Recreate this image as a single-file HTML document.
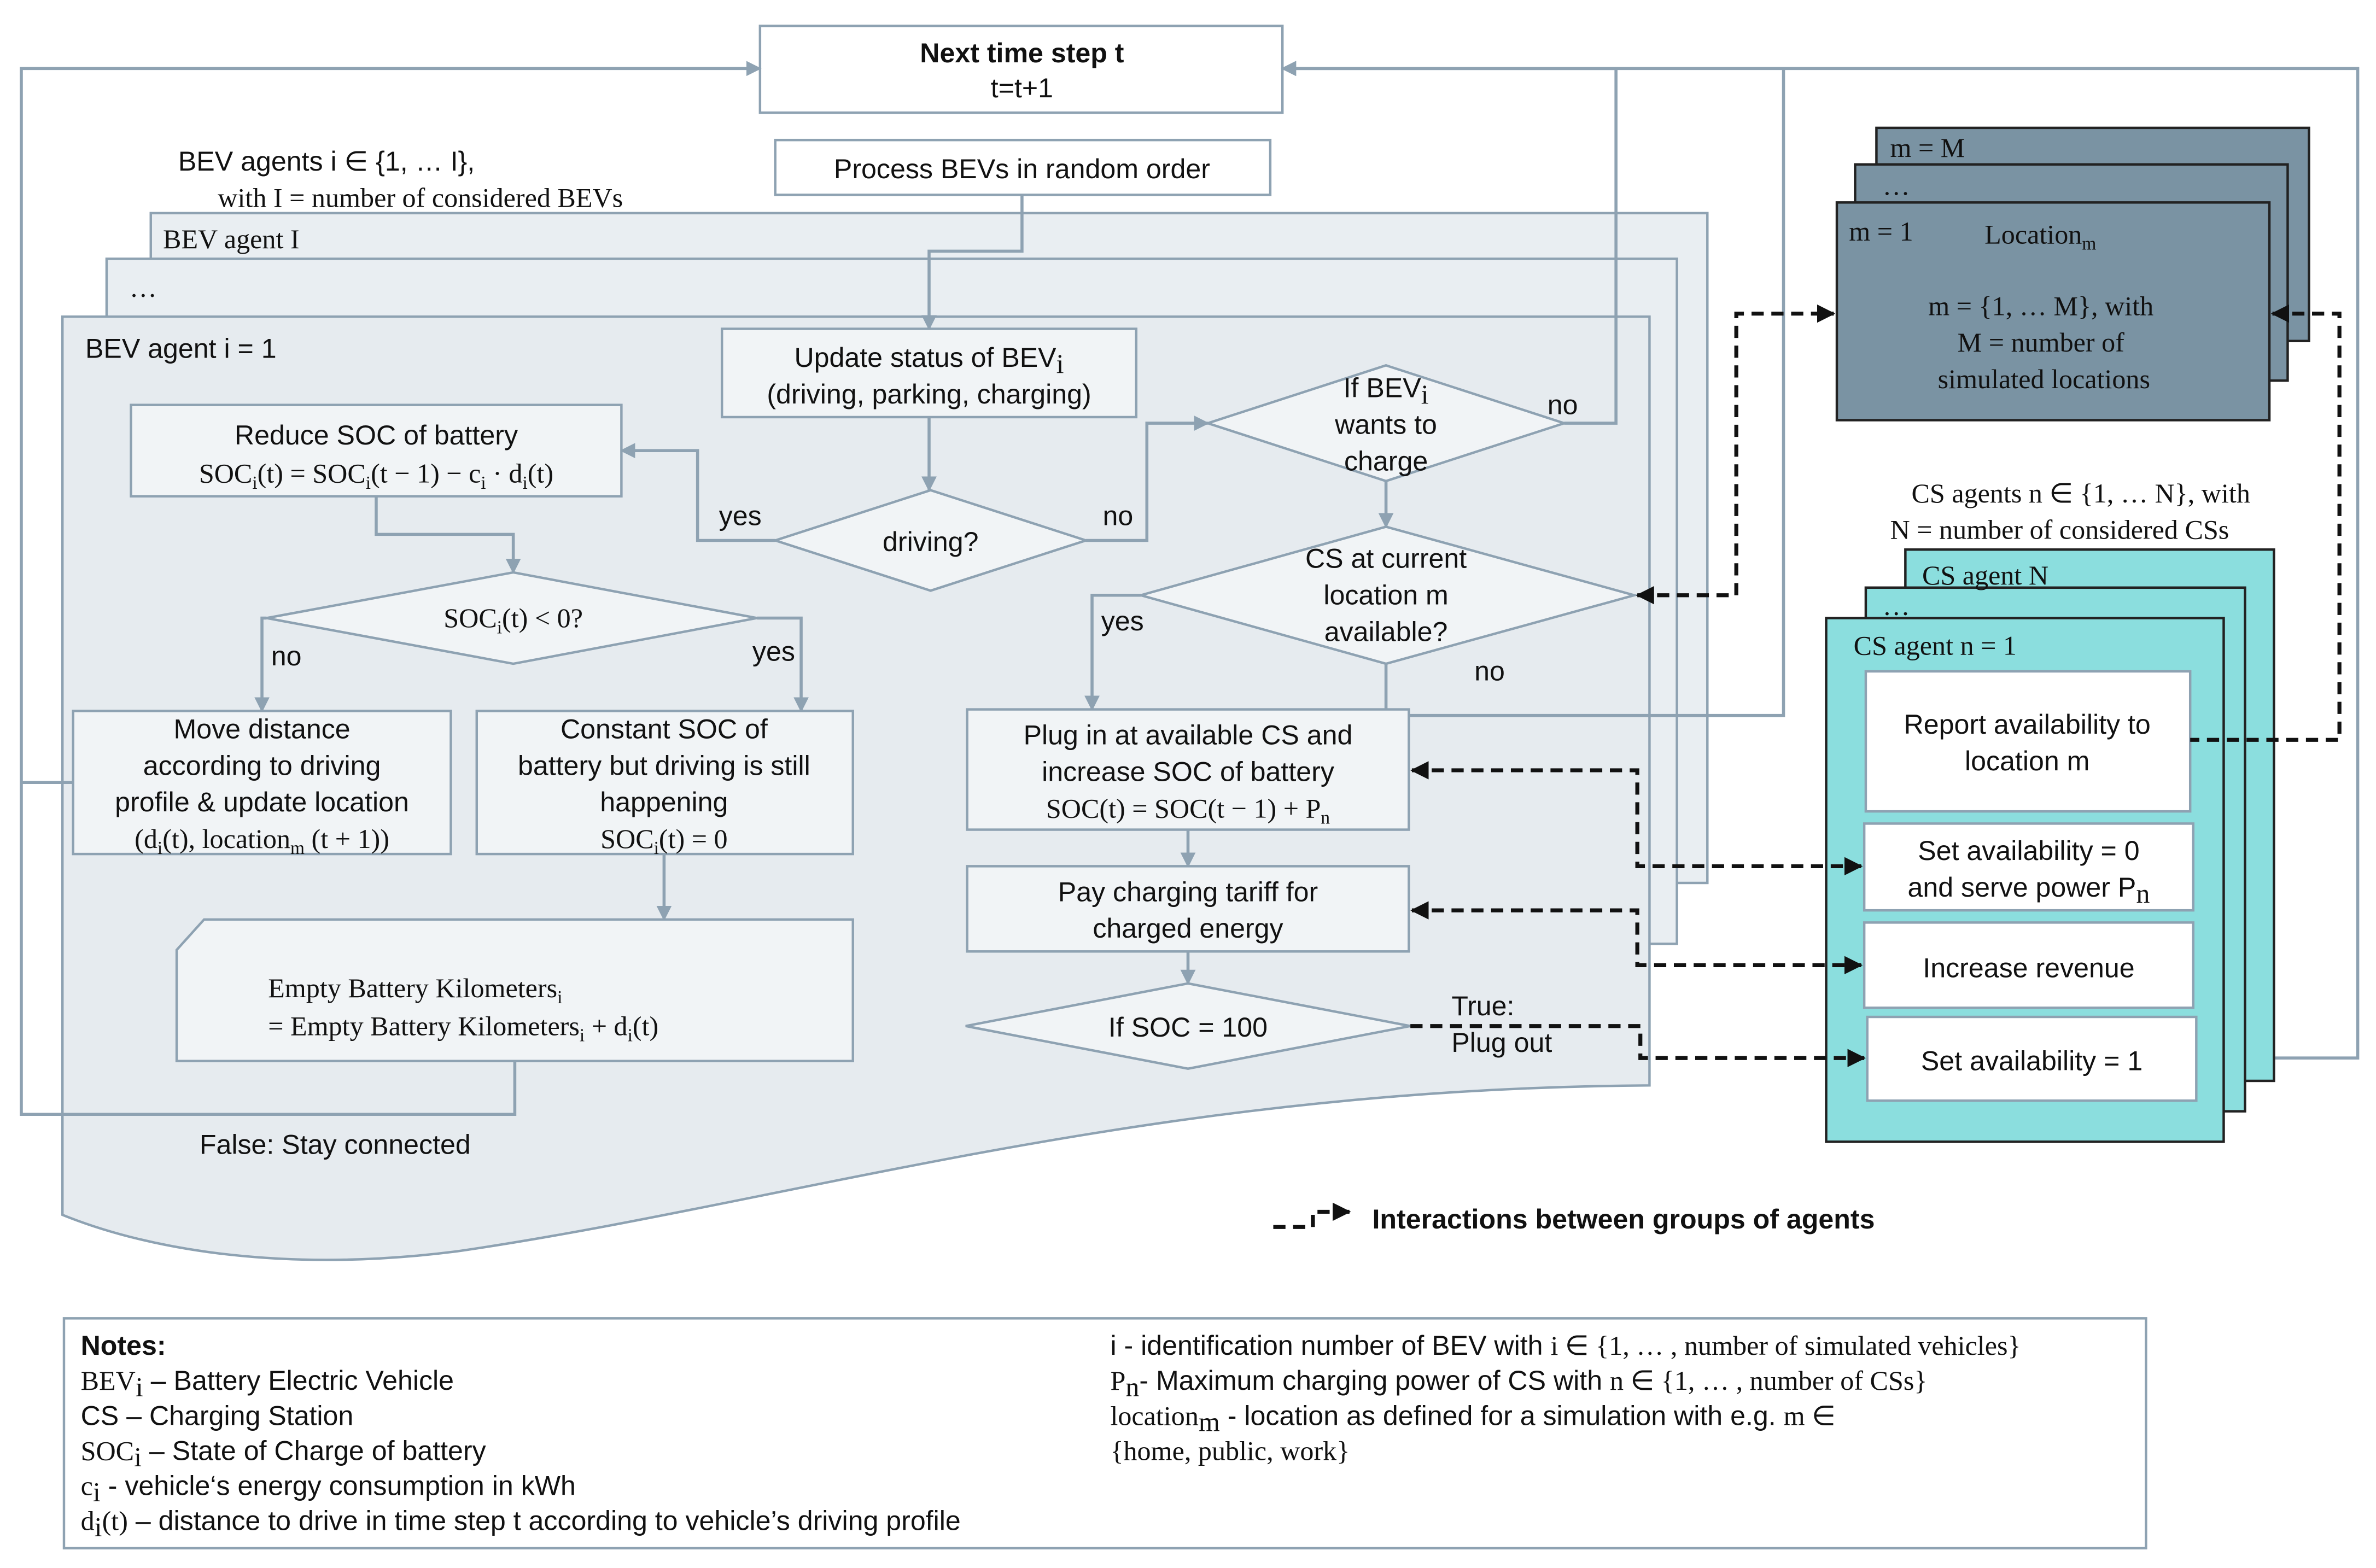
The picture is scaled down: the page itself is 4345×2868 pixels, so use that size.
<!DOCTYPE html>
<html><head><meta charset="utf-8"><style>
html,body{margin:0;padding:0;background:#fff}
svg{display:block}
.s{font-family:"Liberation Sans",sans-serif;font-size:18px;fill:#111}
.r{font-family:"Liberation Serif",serif;font-size:18px;fill:#111}
.b{font-weight:bold}
.box{fill:#f1f4f6;stroke:#8ea2b2;stroke-width:1.6}
.ln{fill:none;stroke:#8ea2b2;stroke-width:2}
.dl{fill:none;stroke:#111;stroke-width:2.6;stroke-dasharray:8,5}
</style></head><body>
<svg width="4345" height="2868" viewBox="0 0 1560 1030" preserveAspectRatio="none" xmlns="http://www.w3.org/2000/svg">
<defs>
<marker id="ag" markerWidth="10" markerHeight="10" refX="9" refY="5" orient="auto" markerUnits="userSpaceOnUse"><path d="M0,0 L10,5 L0,10 Z" fill="#8ea2b2"/></marker>
<marker id="ab" markerWidth="12" markerHeight="12" refX="11" refY="6" orient="auto" markerUnits="userSpaceOnUse"><path d="M0,0 L12,6 L0,12 Z" fill="#111"/></marker>
<marker id="abs" markerWidth="12" markerHeight="12" refX="1" refY="6" orient="auto" markerUnits="userSpaceOnUse"><path d="M12,0 L0,6 L12,12 Z" fill="#111"/></marker>
</defs>
<rect width="1560" height="1030" fill="#fff"/>

<!-- BEV panels -->
<rect x="99" y="140" width="1022" height="440" fill="#e9eef2" stroke="#8ea2b2" stroke-width="1.6"/>
<rect x="70" y="170" width="1031" height="450" fill="#e9eef2" stroke="#8ea2b2" stroke-width="1.6"/>
<path d="M41,208 H1083 V713 C750,715 520,790 300,822 C190,836 100,822 41,798 Z" fill="#e6ebef" stroke="#8ea2b2" stroke-width="1.6"/>
<text class="r" x="107" y="163">BEV agent I</text>
<text class="r" x="85" y="195">…</text>
<text class="s" x="56" y="235">BEV agent i = 1</text>
<text class="s" x="117" y="112">BEV agents i ∈ {1, … I},</text>
<text class="r" x="143" y="136">with I = number of considered BEVs</text>

<!-- top boxes -->
<rect x="499" y="17" width="343" height="57" fill="#fff" stroke="#8ea2b2" stroke-width="1.6"/>
<text class="s b" x="671" y="41" text-anchor="middle">Next time step t</text>
<text class="s" x="671" y="64" text-anchor="middle">t=t+1</text>
<rect x="509" y="92" width="325" height="36" fill="#fff" stroke="#8ea2b2" stroke-width="1.6"/>
<text class="s" x="671" y="117" text-anchor="middle">Process BEVs in random order</text>

<!-- connectors gray -->
<path class="ln" d="M671,128 V165 H610 V216" marker-end="url(#ag)"/>
<path class="ln" d="M610,274 V322" marker-end="url(#ag)"/>
<path class="ln" d="M509,355 H458 V296 H408" marker-end="url(#ag)"/>
<path class="ln" d="M713,355 H753 V278 H793" marker-end="url(#ag)"/>
<path class="ln" d="M1027,278 H1061 V45 H842" marker-end="url(#ag)"/>
<path class="ln" d="M910,316 V346" marker-end="url(#ag)"/>
<path class="ln" d="M749,391 H717 V466" marker-end="url(#ag)"/>
<path class="ln" d="M910,436 V470 H1171 V45"/>
<path class="ln" d="M1442,695 H1548 V45 H842" marker-end="url(#ag)"/>
<path class="ln" d="M247,326 V351 H337 V376" marker-end="url(#ag)"/>
<path class="ln" d="M175,406 H172 V467" marker-end="url(#ag)"/>
<path class="ln" d="M497,406 H526 V467" marker-end="url(#ag)"/>
<path class="ln" d="M436,561 V604" marker-end="url(#ag)"/>
<path class="ln" d="M338,697 V732 H14 V45 H499" marker-end="url(#ag)"/>
<path class="ln" d="M48,514 H14"/>
<path class="ln" d="M780,545 V569" marker-end="url(#ag)"/>
<path class="ln" d="M780,625 V646" marker-end="url(#ag)"/>

<!-- BEV boxes -->
<rect class="box" x="474" y="216" width="272" height="58"/>
<text class="s" x="610" y="241" text-anchor="middle">Update status of BEV<tspan class="r" font-size="13" dy="4">i</tspan></text>
<text class="s" x="610" y="265" text-anchor="middle">(driving, parking, charging)</text>

<rect class="box" x="86" y="266" width="322" height="60"/>
<text class="s" x="247" y="292" text-anchor="middle">Reduce SOC of battery</text>
<text class="r" x="247" y="317" text-anchor="middle">SOC<tspan font-size="12" dy="4">i</tspan><tspan dy="-4">(t) = SOC</tspan><tspan font-size="12" dy="4">i</tspan><tspan dy="-4">(t − 1) − c</tspan><tspan font-size="12" dy="4">i</tspan><tspan dy="-4"> · d</tspan><tspan font-size="12" dy="4">i</tspan><tspan dy="-4">(t)</tspan></text>

<polygon class="box" points="509,355 611,322 713,355 611,388"/>
<text class="s" x="611" y="362" text-anchor="middle">driving?</text>
<text class="s" x="472" y="345">yes</text>
<text class="s" x="724" y="345">no</text>

<polygon class="box" points="793,278 910,240 1027,278 910,316"/>
<text class="s" x="910" y="261" text-anchor="middle">If BEV<tspan class="r" font-size="13" dy="4">i</tspan></text>
<text class="s" x="910" y="285" text-anchor="middle">wants to</text>
<text class="s" x="910" y="309" text-anchor="middle">charge</text>
<text class="s" x="1016" y="272">no</text>

<polygon class="box" points="749,391 910,346 1073,391 910,436"/>
<text class="s" x="910" y="373" text-anchor="middle">CS at current</text>
<text class="s" x="910" y="397" text-anchor="middle">location m</text>
<text class="s" x="910" y="421" text-anchor="middle">available?</text>
<text class="s" x="723" y="414">yes</text>
<text class="s" x="968" y="447">no</text>

<polygon class="box" points="175,406 337,376 497,406 337,436"/>
<text class="r" x="337" y="412" text-anchor="middle">SOC<tspan font-size="12" dy="4">i</tspan><tspan dy="-4">(t) &lt;  0?</tspan></text>
<text class="s" x="178" y="437">no</text>
<text class="s" x="494" y="434">yes</text>

<rect class="box" x="48" y="467" width="248" height="94"/>
<text class="s" x="172" y="485" text-anchor="middle">Move distance</text>
<text class="s" x="172" y="509" text-anchor="middle">according to driving</text>
<text class="s" x="172" y="533" text-anchor="middle">profile &amp; update location</text>
<text class="r" x="172" y="557" text-anchor="middle">(d<tspan font-size="12" dy="4">i</tspan><tspan dy="-4">(t), location</tspan><tspan font-size="12" dy="4">m</tspan><tspan dy="-4"> (t + 1))</tspan></text>

<rect class="box" x="313" y="467" width="247" height="94"/>
<text class="s" x="436" y="485" text-anchor="middle">Constant SOC of</text>
<text class="s" x="436" y="509" text-anchor="middle">battery but driving is still</text>
<text class="s" x="436" y="533" text-anchor="middle">happening</text>
<text class="r" x="436" y="557" text-anchor="middle">SOC<tspan font-size="12" dy="4">i</tspan><tspan dy="-4">(t) = 0</tspan></text>

<path class="box" d="M134,604 H560 V697 H116 V624 Z"/>
<text class="r" x="176" y="655">Empty Battery Kilometers<tspan font-size="12" dy="4">i</tspan></text>
<text class="r" x="176" y="680">=  Empty Battery Kilometers<tspan font-size="12" dy="4">i</tspan><tspan dy="-4"> + d</tspan><tspan font-size="12" dy="4">i</tspan><tspan dy="-4">(t)</tspan></text>
<text class="s" x="131" y="758">False: Stay connected</text>

<rect class="box" x="635" y="466" width="290" height="79"/>
<text class="s" x="780" y="489" text-anchor="middle">Plug in at available CS and</text>
<text class="s" x="780" y="513" text-anchor="middle">increase SOC of battery</text>
<text class="r" x="780" y="537" text-anchor="middle">SOC(t) = SOC(t − 1) + P<tspan font-size="12" dy="4">n</tspan></text>

<rect class="box" x="635" y="569" width="290" height="56"/>
<text class="s" x="780" y="592" text-anchor="middle">Pay charging tariff for</text>
<text class="s" x="780" y="616" text-anchor="middle">charged energy</text>

<polygon class="box" points="634,674 780,646 926,674 780,702"/>
<text class="s" x="780" y="681" text-anchor="middle">If SOC = 100</text>
<text class="s" x="953" y="667">True:</text>
<text class="s" x="953" y="691">Plug out</text>

<!-- Locations -->
<rect x="1232" y="84" width="284" height="140" fill="#7a93a3" stroke="#222" stroke-width="1.6"/>
<rect x="1218" y="108" width="284" height="142" fill="#7a93a3" stroke="#222" stroke-width="1.6"/>
<rect x="1206" y="133" width="284" height="143" fill="#7a93a3" stroke="#222" stroke-width="1.6"/>
<text class="r" x="1241" y="103">m = M</text>
<text class="r" x="1236" y="128">…</text>
<text class="r" x="1214" y="158">m = 1</text>
<text class="r" x="1303" y="160">Location<tspan font-size="12" dy="4">m</tspan></text>
<text class="r" x="1340" y="207" text-anchor="middle">m = {1, … M}, with</text>
<text class="r" x="1340" y="231" text-anchor="middle">M = number of</text>
<text class="r" x="1342" y="255" text-anchor="middle">simulated locations</text>

<!-- CS agents -->
<text class="r" x="1255" y="330">CS agents n ∈ {1, … N}, with</text>
<text class="r" x="1241" y="354">N = number of considered CSs</text>
<rect x="1251" y="361" width="242" height="349" fill="#8bdede" stroke="#222" stroke-width="1.6"/>
<rect x="1225" y="386" width="249" height="344" fill="#8bdede" stroke="#222" stroke-width="1.6"/>
<rect x="1199" y="406" width="261" height="344" fill="#8bdede" stroke="#222" stroke-width="1.6"/>
<text class="r" x="1262" y="384">CS agent N</text>
<text class="r" x="1236" y="404">…</text>
<text class="r" x="1217" y="430">CS agent n = 1</text>
<rect x="1225" y="441" width="213" height="92" fill="#fff" stroke="#8ea2b2" stroke-width="1.6"/>
<text class="s" x="1331" y="482" text-anchor="middle">Report availability to</text>
<text class="s" x="1331" y="506" text-anchor="middle">location m</text>
<rect x="1224" y="541" width="216" height="57" fill="#fff" stroke="#8ea2b2" stroke-width="1.6"/>
<text class="s" x="1332" y="565" text-anchor="middle">Set availability = 0</text>
<text class="s" x="1332" y="589" text-anchor="middle">and serve power P<tspan class="r" font-size="12" dy="4">n</tspan></text>
<rect x="1224" y="606" width="216" height="56" fill="#fff" stroke="#8ea2b2" stroke-width="1.6"/>
<text class="s" x="1332" y="642" text-anchor="middle">Increase revenue</text>
<rect x="1226" y="668" width="216" height="55" fill="#fff" stroke="#8ea2b2" stroke-width="1.6"/>
<text class="s" x="1334" y="703" text-anchor="middle">Set availability = 1</text>

<!-- dashed interactions -->
<path class="dl" d="M1075,391 H1140 V206 H1204" marker-start="url(#abs)" marker-end="url(#ab)"/>
<path class="dl" d="M1492,206 H1536 V486 H1438" marker-start="url(#abs)"/>
<path class="dl" d="M927,506 H1075 V569 H1222" marker-start="url(#abs)" marker-end="url(#ab)"/>
<path class="dl" d="M927,598 H1075 V634 H1222" marker-start="url(#abs)" marker-end="url(#ab)"/>
<path class="dl" d="M926,674 H1077 V695 H1224" marker-end="url(#ab)"/>

<!-- legend -->
<path class="dl" d="M836,806 H862 V796 H886" marker-end="url(#ab)"/>
<text class="s b" x="901" y="807" font-size="16">Interactions between groups of agents</text>

<!-- Notes -->
<rect x="42" y="866" width="1367" height="151" fill="#fff" stroke="#8ea2b2" stroke-width="1.6"/>
<g font-size="17">
<text class="s b" x="53" y="890" font-size="17">Notes:</text>
<text class="s" x="53" y="913" font-size="17"><tspan class="r">BEV</tspan><tspan class="r" font-size="12" dy="4">i</tspan><tspan dy="-4"> – Battery Electric Vehicle</tspan></text>
<text class="s" x="53" y="936" font-size="17">CS – Charging Station</text>
<text class="s" x="53" y="959" font-size="17"><tspan class="r">SOC</tspan><tspan class="r" font-size="12" dy="4">i</tspan><tspan dy="-4"> – State of Charge of battery</tspan></text>
<text class="s" x="53" y="982" font-size="17"><tspan class="r">c</tspan><tspan class="r" font-size="12" dy="4">i</tspan><tspan dy="-4">  - vehicle‘s energy consumption in kWh</tspan></text>
<text class="s" x="53" y="1005" font-size="17"><tspan class="r">d</tspan><tspan class="r" font-size="12" dy="4">i</tspan><tspan class="r" dy="-4">(t)</tspan> – distance to drive in time step t according to vehicle’s driving profile</text>
<text class="s" x="729" y="890" font-size="17">i - identification number  of BEV with <tspan class="r">i ∈ {1, … , number of simulated vehicles}</tspan></text>
<text class="s" x="729" y="913" font-size="17"><tspan class="r">P</tspan><tspan class="r" font-size="12" dy="4">n</tspan><tspan dy="-4">- Maximum charging power of CS with </tspan><tspan class="r">n ∈ {1, … , number of CSs}</tspan></text>
<text class="s" x="729" y="936" font-size="17"><tspan class="r">location</tspan><tspan class="r" font-size="12" dy="4">m</tspan><tspan dy="-4"> - location as defined for a simulation with e.g. </tspan><tspan class="r">m ∈</tspan></text>
<text class="r" x="729" y="959" font-size="17">{home, public, work}</text>
</g>
</svg>
</body></html>
